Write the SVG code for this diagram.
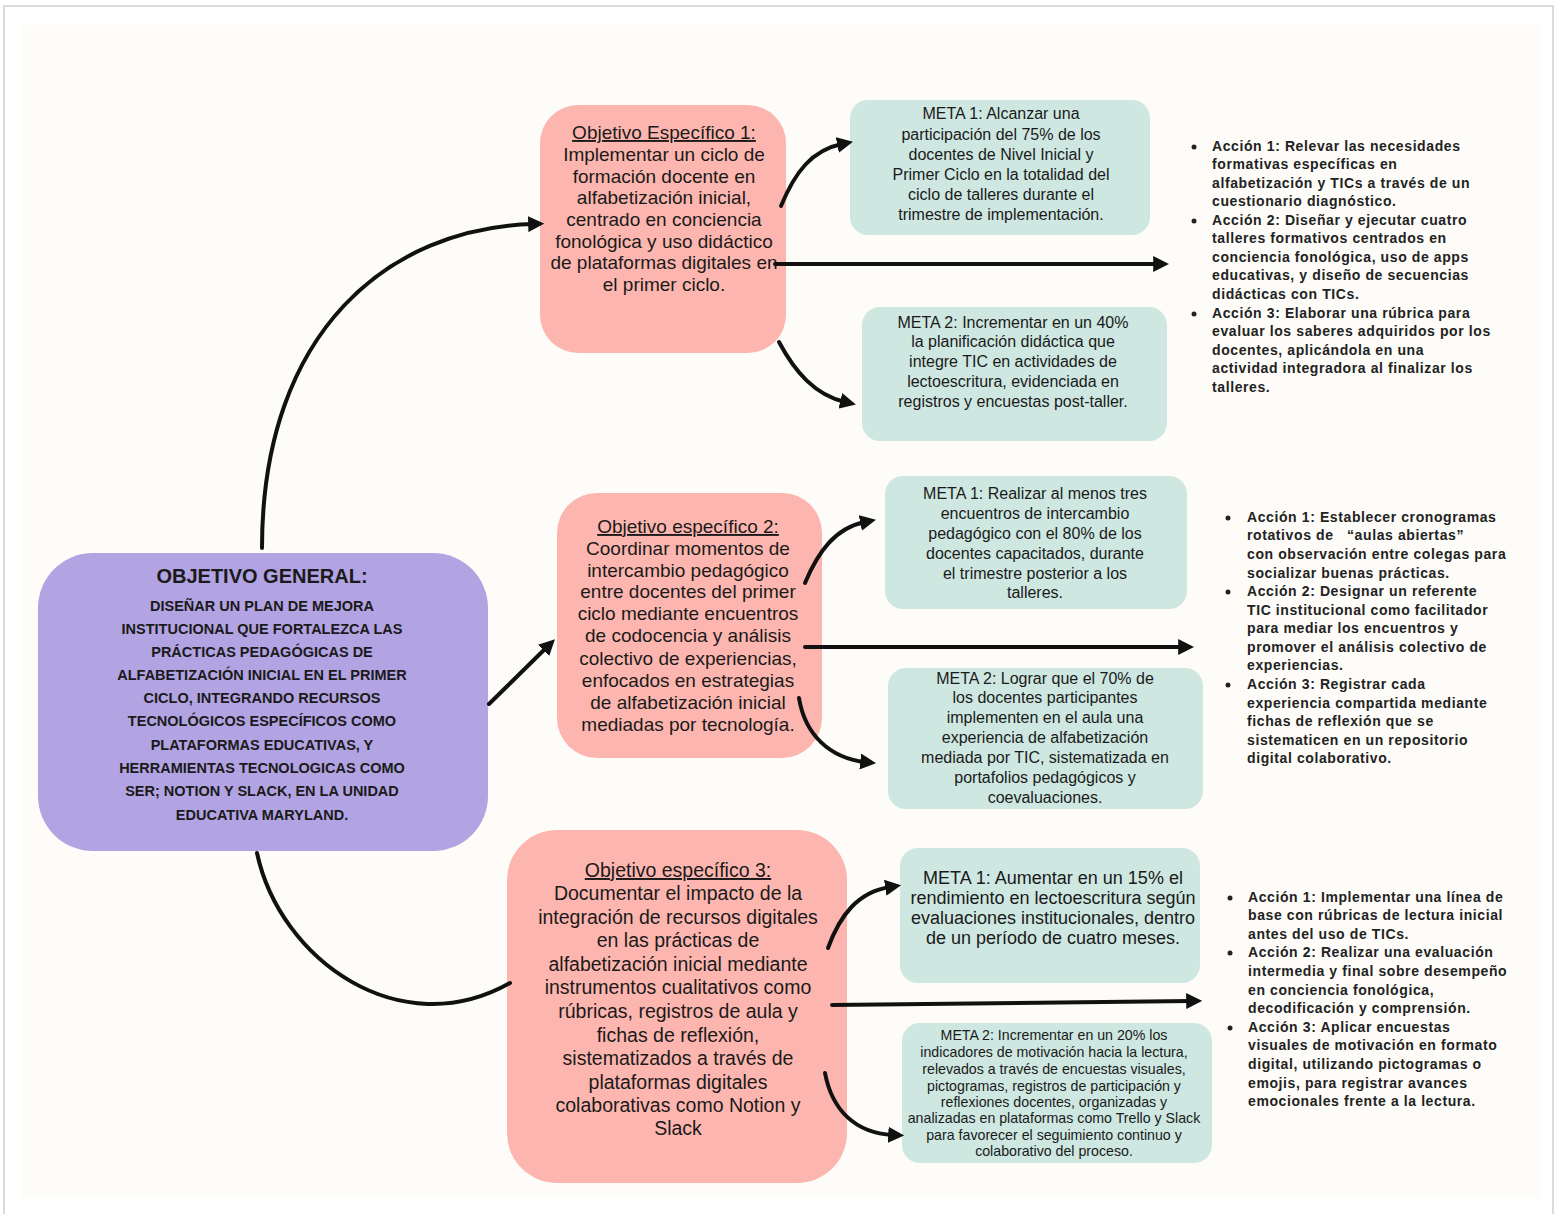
<svg xmlns="http://www.w3.org/2000/svg" width="1555" height="1214" viewBox="0 0 1555 1214">
<defs>
<marker id="ah" viewBox="0 0 10 10" refX="3" refY="5" markerWidth="16" markerHeight="16" markerUnits="userSpaceOnUse" orient="auto"><path d="M0,0 L10,5 L0,10 z" fill="#111"/></marker>
<style>
.gen{fill:#b2a3e2}
.obj{fill:#fdb6af}
.meta{fill:#cee7e1}
.hw{font-family:"Liberation Sans","DejaVu Sans",sans-serif;fill:#1a1a1a;text-anchor:middle}
.o{font-size:19px}
.m{font-size:16px}
.cap{font-family:"Liberation Sans",sans-serif;font-size:14.5px;fill:#1a1a1a;text-anchor:middle;font-weight:bold}
.act{font-family:"Liberation Sans","DejaVu Sans",sans-serif;font-size:14px;letter-spacing:0.6px;font-weight:bold;fill:#222}
.conn{fill:none;stroke:#111;stroke-width:4;stroke-linecap:round}
.u{text-decoration:underline}
</style>
</defs>
<rect x="0" y="0" width="1555" height="1214" fill="#ffffff"/>
<rect x="4" y="6" width="1549" height="1230" fill="#ffffff" stroke="#cfcfcf" stroke-width="1.5"/>
<rect x="22" y="25" width="1518" height="1173" fill="#fdfcf8"/>

<g id="general">
<rect class="gen" x="38" y="553" width="450" height="298" rx="55"/>
<text class="hw" x="262" y="583" font-size="20" font-weight="bold">OBJETIVO GENERAL:</text>
<text class="cap" x="262" y="611">DISEÑAR UN PLAN DE MEJORA</text>
<text class="cap" x="262" y="634">INSTITUCIONAL QUE FORTALEZCA LAS</text>
<text class="cap" x="262" y="657">PRÁCTICAS PEDAGÓGICAS DE</text>
<text class="cap" x="262" y="680">ALFABETIZACIÓN INICIAL EN EL PRIMER</text>
<text class="cap" x="262" y="703">CICLO, INTEGRANDO RECURSOS</text>
<text class="cap" x="262" y="726">TECNOLÓGICOS ESPECÍFICOS COMO</text>
<text class="cap" x="262" y="750">PLATAFORMAS EDUCATIVAS, Y</text>
<text class="cap" x="262" y="773">HERRAMIENTAS TECNOLOGICAS COMO</text>
<text class="cap" x="262" y="796">SER; NOTION Y SLACK, EN LA UNIDAD</text>
<text class="cap" x="262" y="820">EDUCATIVA MARYLAND.</text>
</g>

<g id="obj1">
<rect class="obj" x="540" y="105" width="246" height="248" rx="38"/>
<text class="hw o" x="664" y="139"><tspan class="u">Objetivo Específico 1:</tspan></text>
<text class="hw o" x="664" y="161">Implementar un ciclo de</text>
<text class="hw o" x="664" y="183">formación docente en</text>
<text class="hw o" x="664" y="204">alfabetización inicial,</text>
<text class="hw o" x="664" y="226">centrado en conciencia</text>
<text class="hw o" x="664" y="248">fonológica y uso didáctico</text>
<text class="hw o" x="664" y="269">de plataformas digitales en</text>
<text class="hw o" x="664" y="291">el primer ciclo.</text>
</g>

<g id="obj2">
<rect class="obj" x="557" y="493" width="265" height="265" rx="40"/>
<text class="hw o" x="688" y="533"><tspan class="u">Objetivo específico 2:</tspan></text>
<text class="hw o" x="688" y="555">Coordinar momentos de</text>
<text class="hw o" x="688" y="577">intercambio pedagógico</text>
<text class="hw o" x="688" y="598">entre docentes del primer</text>
<text class="hw o" x="688" y="620">ciclo mediante encuentros</text>
<text class="hw o" x="688" y="642">de codocencia y análisis</text>
<text class="hw o" x="688" y="665">colectivo de experiencias,</text>
<text class="hw o" x="688" y="687">enfocados en estrategias</text>
<text class="hw o" x="688" y="709">de alfabetización inicial</text>
<text class="hw o" x="688" y="731">mediadas por tecnología.</text>
</g>

<g id="obj3">
<rect class="obj" x="507" y="830" width="340" height="353" rx="50"/>
<g font-size="19.5">
<text class="hw" x="678" y="877"><tspan class="u">Objetivo específico 3:</tspan></text>
<text class="hw" x="678" y="900">Documentar el impacto de la</text>
<text class="hw" x="678" y="924">integración de recursos digitales</text>
<text class="hw" x="678" y="947">en las prácticas de</text>
<text class="hw" x="678" y="971">alfabetización inicial mediante</text>
<text class="hw" x="678" y="994">instrumentos cualitativos como</text>
<text class="hw" x="678" y="1018">rúbricas, registros de aula y</text>
<text class="hw" x="678" y="1042">fichas de reflexión,</text>
<text class="hw" x="678" y="1065">sistematizados a través de</text>
<text class="hw" x="678" y="1089">plataformas digitales</text>
<text class="hw" x="678" y="1112">colaborativas como Notion y</text>
<text class="hw" x="678" y="1135">Slack</text>
</g>
</g>

<g id="meta1-1">
<rect class="meta" x="850" y="100" width="300" height="135" rx="18"/>
<text class="hw m" x="1001" y="119">META 1: Alcanzar una</text>
<text class="hw m" x="1001" y="140">participación del 75% de los</text>
<text class="hw m" x="1001" y="160">docentes de Nivel Inicial y</text>
<text class="hw m" x="1001" y="180">Primer Ciclo en la totalidad del</text>
<text class="hw m" x="1001" y="200">ciclo de talleres durante el</text>
<text class="hw m" x="1001" y="220">trimestre de implementación.</text>
</g>

<g id="meta1-2">
<rect class="meta" x="862" y="307" width="305" height="134" rx="18"/>
<text class="hw m" x="1013" y="328">META 2: Incrementar en un 40%</text>
<text class="hw m" x="1013" y="347">la planificación didáctica que</text>
<text class="hw m" x="1013" y="367">integre TIC en actividades de</text>
<text class="hw m" x="1013" y="387">lectoescritura, evidenciada en</text>
<text class="hw m" x="1013" y="407">registros y encuestas post-taller.</text>
</g>

<g id="meta2-1">
<rect class="meta" x="885" y="476" width="302" height="133" rx="18"/>
<text class="hw m" x="1035" y="499">META 1: Realizar al menos tres</text>
<text class="hw m" x="1035" y="519">encuentros de intercambio</text>
<text class="hw m" x="1035" y="539">pedagógico con el 80% de los</text>
<text class="hw m" x="1035" y="559">docentes capacitados, durante</text>
<text class="hw m" x="1035" y="579">el trimestre posterior a los</text>
<text class="hw m" x="1035" y="598">talleres.</text>
</g>

<g id="meta2-2">
<rect class="meta" x="888" y="668" width="315" height="141" rx="18"/>
<text class="hw m" x="1045" y="684">META 2: Lograr que el 70% de</text>
<text class="hw m" x="1045" y="703">los docentes participantes</text>
<text class="hw m" x="1045" y="723">implementen en el aula una</text>
<text class="hw m" x="1045" y="743">experiencia de alfabetización</text>
<text class="hw m" x="1045" y="763">mediada por TIC, sistematizada en</text>
<text class="hw m" x="1045" y="783">portafolios pedagógicos y</text>
<text class="hw m" x="1045" y="803">coevaluaciones.</text>
</g>

<g id="meta3-1">
<rect class="meta" x="900" y="848" width="300" height="135" rx="18"/>
<text class="hw" font-size="18" x="1053" y="884">META 1: Aumentar en un 15% el</text>
<text class="hw" font-size="18" x="1053" y="904">rendimiento en lectoescritura según</text>
<text class="hw" font-size="18" x="1053" y="924">evaluaciones institucionales, dentro</text>
<text class="hw" font-size="18" x="1053" y="944">de un período de cuatro meses.</text>
</g>

<g id="meta3-2">
<rect class="meta" x="902" y="1023" width="310" height="140" rx="18"/>
<g font-size="14.2">
<text class="hw" x="1054" y="1040">META 2: Incrementar en un 20% los</text>
<text class="hw" x="1054" y="1057">indicadores de motivación hacia la lectura,</text>
<text class="hw" x="1054" y="1074">relevados a través de encuestas visuales,</text>
<text class="hw" x="1054" y="1091">pictogramas, registros de participación y</text>
<text class="hw" x="1054" y="1107">reflexiones docentes, organizadas y</text>
<text class="hw" x="1054" y="1123">analizadas en plataformas como Trello y Slack</text>
<text class="hw" x="1054" y="1140">para favorecer el seguimiento continuo y</text>
<text class="hw" x="1054" y="1156">colaborativo del proceso.</text>
</g>
</g>

<g id="acciones1">
<circle cx="1194" cy="147" r="2.5" fill="#222"/>
<circle cx="1194" cy="221" r="2.5" fill="#222"/>
<circle cx="1194" cy="314" r="2.5" fill="#222"/>
<text class="act" x="1212" y="151">Acción 1: Relevar las necesidades</text>
<text class="act" x="1212" y="169">formativas específicas en</text>
<text class="act" x="1212" y="188">alfabetización y TICs a través de un</text>
<text class="act" x="1212" y="206">cuestionario diagnóstico.</text>
<text class="act" x="1212" y="225">Acción 2: Diseñar y ejecutar cuatro</text>
<text class="act" x="1212" y="243">talleres formativos centrados en</text>
<text class="act" x="1212" y="262">conciencia fonológica, uso de apps</text>
<text class="act" x="1212" y="280">educativas, y diseño de secuencias</text>
<text class="act" x="1212" y="299">didácticas con TICs.</text>
<text class="act" x="1212" y="318">Acción 3: Elaborar una rúbrica para</text>
<text class="act" x="1212" y="336">evaluar los saberes adquiridos por los</text>
<text class="act" x="1212" y="355">docentes, aplicándola en una</text>
<text class="act" x="1212" y="373">actividad integradora al finalizar los</text>
<text class="act" x="1212" y="392">talleres.</text>
</g>

<g id="acciones2">
<circle cx="1228" cy="518" r="2.5" fill="#222"/>
<circle cx="1228" cy="592" r="2.5" fill="#222"/>
<circle cx="1228" cy="685" r="2.5" fill="#222"/>
<text class="act" x="1247" y="522">Acción 1: Establecer cronogramas</text>
<text class="act" x="1247" y="540" xml:space="preserve">rotativos de   “aulas abiertas”</text>
<text class="act" x="1247" y="559">con observación entre colegas para</text>
<text class="act" x="1247" y="578">socializar buenas prácticas.</text>
<text class="act" x="1247" y="596">Acción 2: Designar un referente</text>
<text class="act" x="1247" y="615">TIC institucional como facilitador</text>
<text class="act" x="1247" y="633">para mediar los encuentros y</text>
<text class="act" x="1247" y="652">promover el análisis colectivo de</text>
<text class="act" x="1247" y="670">experiencias.</text>
<text class="act" x="1247" y="689">Acción 3: Registrar cada</text>
<text class="act" x="1247" y="708">experiencia compartida mediante</text>
<text class="act" x="1247" y="726">fichas de reflexión que se</text>
<text class="act" x="1247" y="745">sistematicen en un repositorio</text>
<text class="act" x="1247" y="763">digital colaborativo.</text>
</g>

<g id="acciones3">
<circle cx="1230" cy="898" r="2.5" fill="#222"/>
<circle cx="1230" cy="953" r="2.5" fill="#222"/>
<circle cx="1230" cy="1028" r="2.5" fill="#222"/>
<text class="act" x="1248" y="902">Acción 1: Implementar una línea de</text>
<text class="act" x="1248" y="920">base con rúbricas de lectura inicial</text>
<text class="act" x="1248" y="939">antes del uso de TICs.</text>
<text class="act" x="1248" y="957">Acción 2: Realizar una evaluación</text>
<text class="act" x="1248" y="976">intermedia y final sobre desempeño</text>
<text class="act" x="1248" y="995">en conciencia fonológica,</text>
<text class="act" x="1248" y="1013">decodificación y comprensión.</text>
<text class="act" x="1248" y="1032">Acción 3: Aplicar encuestas</text>
<text class="act" x="1248" y="1050">visuales de motivación en formato</text>
<text class="act" x="1248" y="1069">digital, utilizando pictogramas o</text>
<text class="act" x="1248" y="1088">emojis, para registrar avances</text>
<text class="act" x="1248" y="1106">emocionales frente a la lectura.</text>
</g>

<g id="connectors">
<path class="conn" d="M262,548 C262,330 390,228 533,224" marker-end="url(#ah)"/>
<path class="conn" d="M489,704 L547,647" marker-end="url(#ah)"/>
<path class="conn" d="M257,853 C280,960 400,1045 510,983"/>
<path class="conn" d="M781,206 C795,172 812,150 842,144" marker-end="url(#ah)"/>
<path class="conn" d="M775,264 L1158,264" marker-end="url(#ah)"/>
<path class="conn" d="M779,342 C795,372 815,395 845,402" marker-end="url(#ah)"/>
<path class="conn" d="M805,583 C818,552 835,528 865,522" marker-end="url(#ah)"/>
<path class="conn" d="M805,647 L1183,647" marker-end="url(#ah)"/>
<path class="conn" d="M799,698 C805,735 830,758 865,762" marker-end="url(#ah)"/>
<path class="conn" d="M828,948 C840,915 858,892 890,887" marker-end="url(#ah)"/>
<path class="conn" d="M832,1005 L1191,1001" marker-end="url(#ah)"/>
<path class="conn" d="M825,1073 C832,1110 855,1133 893,1135" marker-end="url(#ah)"/>
</g>
</svg>
